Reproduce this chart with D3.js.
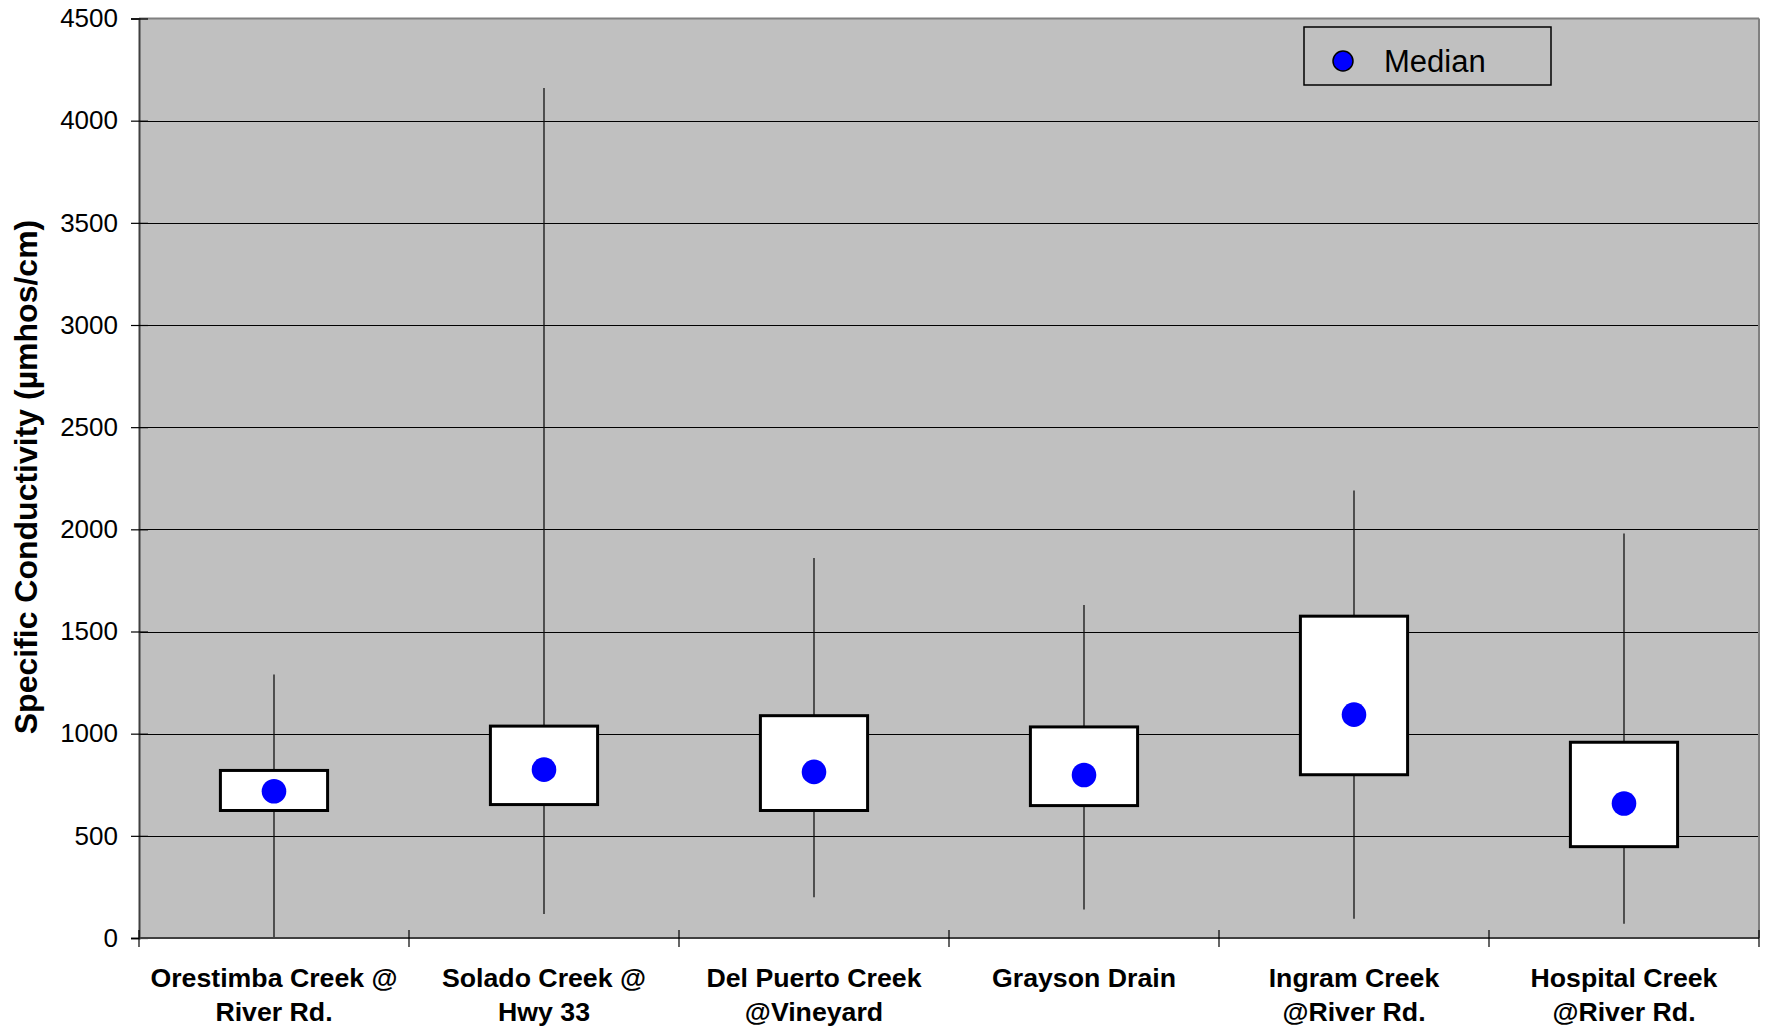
<!DOCTYPE html>
<html>
<head>
<meta charset="utf-8">
<script src="https://cdn.jsdelivr.net/npm/d3@7/dist/d3.min.js"></script>
<style>
  html, body { margin: 0; padding: 0; background: #ffffff; }
  svg { display: block; font-family: "Liberation Sans", Arial, sans-serif; }
</style>
</head>
<body>
<svg id="chart" width="1767" height="1031"></svg>
<script>
// ---- Data ----
const categories = [
  ["Orestimba Creek @", "River Rd."],
  ["Solado Creek @", "Hwy 33"],
  ["Del Puerto Creek", "@Vineyard"],
  ["Grayson Drain"],
  ["Ingram Creek", "@River Rd."],
  ["Hospital Creek", "@River Rd."]
];
const whiskerMax = [1290, 4160, 1860, 1630, 2190, 1980];
const boxTop     = [820, 1037, 1088, 1033, 1575, 958];
const medians    = [718, 824, 813, 798, 1093, 658];
const boxBottom  = [624, 653, 624, 648, 799, 447];
const whiskerMin = [5, 118, 200, 140, 94, 70];
const yTicks = [0, 500, 1000, 1500, 2000, 2500, 3000, 3500, 4000, 4500];
const yTitle = "Specific Conductivity (µmhos/cm)";
const legendLabel = "Median";

// ---- Layout ----
const svg = d3.select("#chart");
const L = 139, R = 1759, T = 18.5, B = 938;

const keys = categories.map((c, i) => String(i));
const x = d3.scaleBand().domain(keys).range([L, R]).padding(0);
const y = d3.scaleLinear().domain([0, 4500]).range([B, T]);

// plot background
svg.append("rect").attr("x", L).attr("y", T).attr("width", R - L).attr("height", B - T)
  .attr("fill", "#c0c0c0");

// gridlines
svg.append("g").selectAll("line").data(yTicks.filter(v => v > 0 && v < 4500)).join("line")
  .attr("x1", L).attr("x2", R)
  .attr("y1", d => Math.round(y(d)) + 0.5).attr("y2", d => Math.round(y(d)) + 0.5)
  .attr("stroke", "#000").attr("stroke-width", 1);

// plot border top/right
svg.append("line").attr("x1", L).attr("x2", R).attr("y1", T).attr("y2", T)
  .attr("stroke", "#808080").attr("stroke-width", 2);
svg.append("line").attr("x1", R).attr("x2", R).attr("y1", T).attr("y2", B)
  .attr("stroke", "#808080").attr("stroke-width", 2);

// y axis
const yAxis = svg.append("g").attr("transform", `translate(${L},0)`)
  .call(d3.axisLeft(y).tickValues(yTicks).tickSize(8).tickPadding(13).tickFormat(d3.format("d")));
yAxis.select(".domain").attr("stroke", "#404040").attr("stroke-width", 2);
yAxis.selectAll(".tick line").attr("x1", -8).attr("x2", 9).attr("stroke", "#000").attr("stroke-width", 1.2);
yAxis.selectAll(".tick text").attr("font-size", 26).attr("fill", "#000")
  .attr("font-family", "'Liberation Sans', Arial, sans-serif");

// x axis line and boundary ticks
svg.append("line").attr("x1", L).attr("x2", R).attr("y1", B).attr("y2", B)
  .attr("stroke", "#404040").attr("stroke-width", 2);
const bounds = keys.map(k => x(k)).concat([x(keys[keys.length - 1]) + x.bandwidth()]);
svg.append("g").selectAll("line").data(bounds).join("line")
  .attr("x1", d => d).attr("x2", d => d).attr("y1", B - 8).attr("y2", B + 9)
  .attr("stroke", "#000").attr("stroke-width", 1.2);

// category labels
const labels = svg.append("g").selectAll("text").data(categories).join("text")
  .attr("x", (d, i) => x(keys[i]) + x.bandwidth() / 2)
  .attr("y", 987)
  .attr("text-anchor", "middle")
  .attr("font-size", 26.7).attr("font-weight", "bold").attr("fill", "#000");
labels.each(function(d) {
  const t = d3.select(this);
  d.forEach((line, j) => {
    t.append("tspan").attr("x", t.attr("x")).attr("dy", j === 0 ? 0 : 34).text(line);
  });
});

// whiskers
const cx = i => x(keys[i]) + x.bandwidth() / 2;
svg.append("g").selectAll("line").data(keys).join("line")
  .attr("x1", (d, i) => cx(i)).attr("x2", (d, i) => cx(i))
  .attr("y1", (d, i) => y(whiskerMax[i])).attr("y2", (d, i) => y(whiskerMin[i]))
  .attr("stroke", "#111").attr("stroke-width", 1.3);

// boxes
const bw = x.bandwidth() * 0.397;
svg.append("g").selectAll("rect").data(keys).join("rect")
  .attr("x", (d, i) => cx(i) - bw / 2)
  .attr("y", (d, i) => y(boxTop[i]))
  .attr("width", bw)
  .attr("height", (d, i) => y(boxBottom[i]) - y(boxTop[i]))
  .attr("fill", "#fff").attr("stroke", "#000").attr("stroke-width", 3);

// medians
svg.append("g").selectAll("circle").data(keys).join("circle")
  .attr("cx", (d, i) => cx(i)).attr("cy", (d, i) => y(medians[i]))
  .attr("r", 12.3).attr("fill", "#0000ff");

// y title
svg.append("text")
  .attr("transform", "translate(37,477) rotate(-90)")
  .attr("text-anchor", "middle")
  .attr("font-size", 32).attr("font-weight", "bold").attr("fill", "#000")
  .text(yTitle);

// legend
const lg = svg.append("g");
lg.append("rect").attr("x", 1304).attr("y", 27).attr("width", 247).attr("height", 58)
  .attr("fill", "#c0c0c0").attr("stroke", "#000").attr("stroke-width", 1.5);
lg.append("circle").attr("cx", 1343).attr("cy", 61).attr("r", 10)
  .attr("fill", "#0000ff").attr("stroke", "#000").attr("stroke-width", 1.5);
lg.append("text").attr("x", 1384).attr("y", 72).attr("font-size", 31).attr("fill", "#000")
  .text(legendLabel);
</script>
</body>
</html>
